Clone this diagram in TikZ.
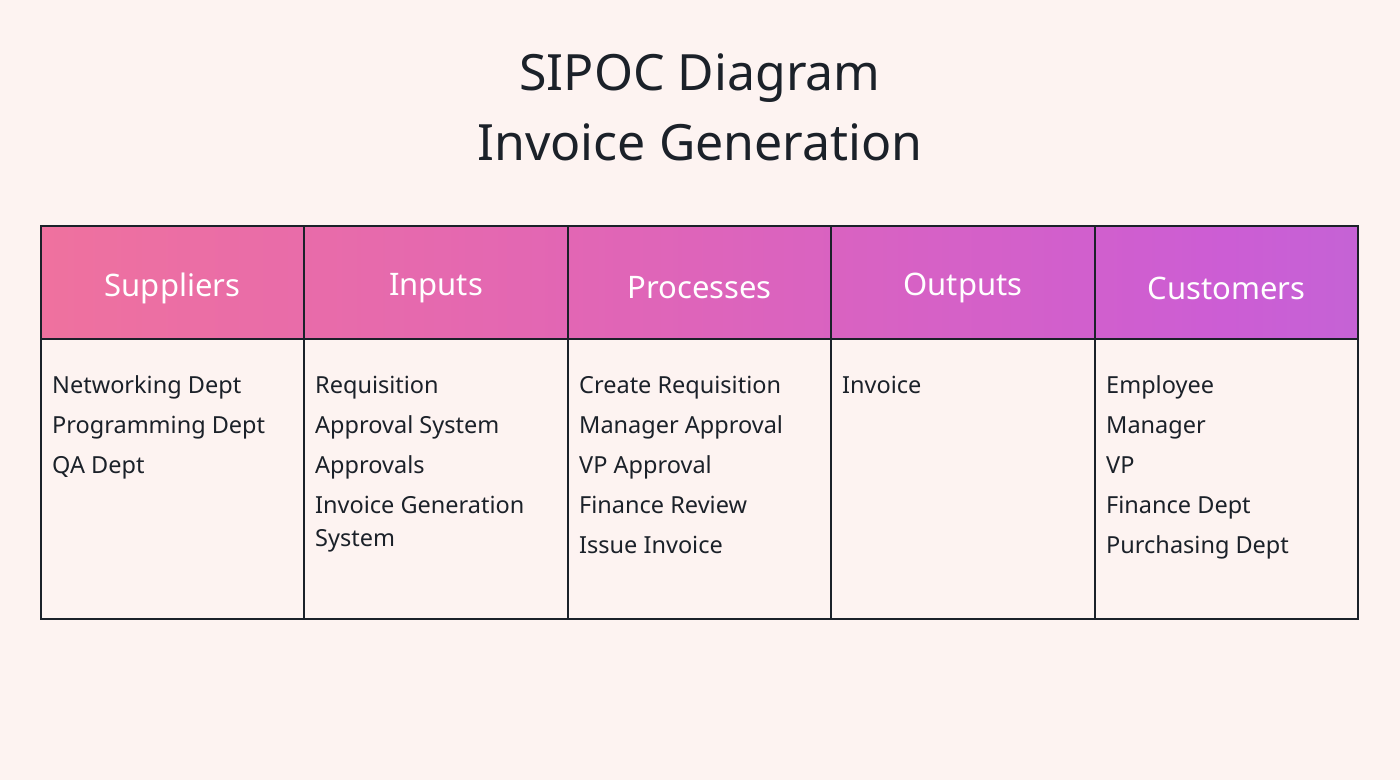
\documentclass[tikz,border=0pt]{standalone}
\usepackage{fontspec}
\setmainfont{Noto Sans}
\definecolor{bg}{HTML}{FDF3F1}
\definecolor{ink}{HTML}{1B2129}
\definecolor{ga}{HTML}{F9B0BC}
\definecolor{gb}{HTML}{F27499}
\definecolor{gc}{HTML}{E266B4}
\definecolor{gd}{HTML}{CC5DD4}
\definecolor{ge}{HTML}{A07EDC}
\pgfdeclarehorizontalshading{sipoc}{100bp}{color(0bp)=(ga);color(20bp)=(gb);color(45bp)=(gc);color(70bp)=(gd);color(100bp)=(ge)}
\tikzset{
  hdr/.style={text=white,font=\bfseries\fontsize{31}{36}\selectfont},
  cell/.style={anchor=base west,inner sep=0pt,text=ink,font=\fontsize{23.5}{28}\selectfont},
  ttl/.style={text=ink,font=\bfseries\fontsize{50}{60}\selectfont},
  grid/.style={draw=ink,line width=1.5pt}
}
\begin{document}
\begin{tikzpicture}[x=1pt,y=-1pt]
\fill[bg] (0,0) rectangle (1400,780);
\useasboundingbox (0,0) rectangle (1400,780);
\node[ttl] (t1) at (700,78) {SIPOC Diagram};
\node[ttl] (t2) at (700,142) {Invoice Generation};
\shade[shading=sipoc] (41,226) rectangle (1358,339);
\fill[bg] (41,339) rectangle (1358,619);
\draw[grid] (41,226) rectangle (1358,619);
\draw[grid] (41,339) -- (1358,339);
\foreach \x in {304,568,831,1095} \draw[grid] (\x,226) -- (\x,619);
\node[hdr] (h1) at (172.5,288) {Suppliers};
\node[hdr] (h2) at (436,288) {Inputs};
\node[hdr] (h3) at (699.5,288) {Processes};
\node[hdr] (h4) at (963,288) {Outputs};
\node[hdr] (h5) at (1226.5,288) {Customers};
\foreach \t [count=\i] in {Networking Dept,Programming Dept,QA Dept}
  \node[cell] (s\i) at (52,353+40*\i) {\t};
\foreach \t [count=\i] in {Requisition,Approval System,Approvals,Invoice Generation}
  \node[cell] (i\i) at (315,353+40*\i) {\t};
\node[cell] (i5) at (315,546) {System};
\foreach \t [count=\i] in {Create Requisition,Manager Approval,VP Approval,Finance Review,Issue Invoice}
  \node[cell] (p\i) at (579,353+40*\i) {\t};
\node[cell] (o1) at (842,393) {Invoice};
\foreach \t [count=\i] in {Employee,Manager,VP,Finance Dept,Purchasing Dept}
  \node[cell] (c\i) at (1106,353+40*\i) {\t};
\end{tikzpicture}
\end{document}
